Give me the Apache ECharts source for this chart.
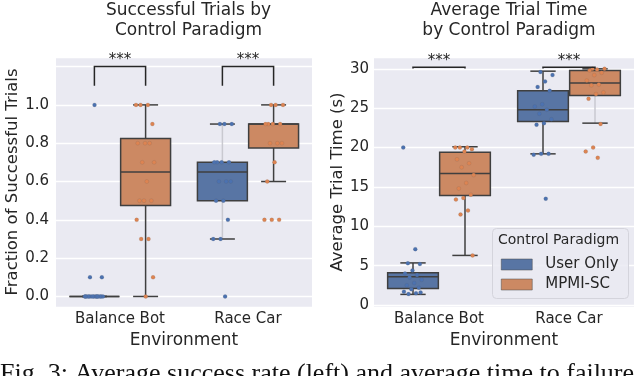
<!DOCTYPE html>
<html>
<head>
<meta charset="utf-8">
<script src="https://cdn.jsdelivr.net/npm/echarts@6/dist/echarts.min.js"></script>
<style>
html,body{margin:0;padding:0;background:#fff;}
#chart{width:640px;height:376px;}
</style>
</head>
<body>
<div id="chart"></div>
<script>
// ---------- data ----------
const categories = ['Balance Bot', 'Race Car'];
const hueNames = ['User Only', 'MPMI-SC'];

// box stats per category: [lowWhisker, Q1, median, Q3, highWhisker]
const successUserStats = [[0, 0, 0, 0, 0], [0.3, 0.5, 0.65, 0.7, 0.9]];
const successMpmiStats = [[0, 0.475, 0.65, 0.825, 1.0], [0.6, 0.775, 0.9, 0.9, 1.0]];
const timeUserStats = [[1.35, 2.1, 3.6, 4.1, 5.35], [19.2, 23.3, 24.8, 27.2, 29.7]];
const timeMpmiStats = [[6.3, 13.9, 16.7, 19.4, 20.1], [23.1, 26.6, 28.2, 29.8, 30.0]];

// individual trial points per category
const successUserPts = [
  [0, 0, 0, 0, 0, 0, 0, 0, 0, 0, 0, 0, 0, 0, 0, 0.1, 0.1, 1.0],
  [0.9, 0.9, 0.9, 0.7, 0.7, 0.7, 0.7, 0.6, 0.6, 0.6, 0.5, 0.5, 0.4, 0.3, 0.3, 0.0]
];
const successMpmiPts = [
  [1.0, 1.0, 1.0, 0.9, 0.8, 0.8, 0.8, 0.7, 0.7, 0.6, 0.5, 0.5, 0.5, 0.4, 0.3, 0.3, 0.1, 0.0],
  [1.0, 1.0, 1.0, 0.9, 0.9, 0.9, 0.9, 0.8, 0.8, 0.8, 0.7, 0.6, 0.4, 0.4, 0.4]
];
const timeUserPts = [
  [20.0, 7.1, 5.3, 5.2, 4.4, 4.0, 3.8, 3.5, 3.2, 2.8, 2.5, 2.2, 2.0, 1.7, 1.5, 1.4, 1.6],
  [29.6, 29.2, 28.4, 27.7, 27.2, 25.5, 25.2, 24.8, 24.3, 23.6, 23.1, 22.9, 19.2, 19.2, 19.1, 13.5]
];
const timeMpmiPts = [
  [20.0, 20.0, 20.0, 19.8, 19.5, 18.5, 18.0, 17.5, 16.5, 15.5, 14.8, 14.0, 13.6, 13.4, 12.0, 11.5, 6.3],
  [30.0, 30.0, 29.9, 29.8, 29.5, 29.2, 28.5, 28.0, 27.9, 27.0, 26.8, 26.2, 23.0, 20.0, 19.5, 18.7]
];

// significance brackets: [category, legBottom, top]
const successBrackets = [[0, 1.1, 1.2], [1, 1.1, 1.2]];
const timeBrackets = [[0, 30.05, 30.2], [1, 30.05, 30.2]];
const sigLabel = '***';

const successTicks = [0, 0.2, 0.4, 0.6, 0.8, 1.0];
const timeTicks = [0, 5, 10, 15, 20, 25, 30];

// ---------- styles ----------
const boxColors = ['#5875a4', '#cc8963'];
const ptColors = ['#4c72b0', '#dd8452'];
const edge = '#3f3f3f';
const txt = '#262626';
const font = 'DejaVu Sans';

function statsData(stats) { return stats.map((s, i) => [i].concat(s)); }
function ptsData(pts) {
  const out = [];
  pts.forEach((arr, c) => arr.forEach((v, k) => out.push([c, v, k])));
  return out;
}

function boxRender(offset, faintSet) {
  return function (params, api) {
    const cat = api.value(0);
    const band = api.size([1, 0])[0];
    const cx = api.coord([cat, 0])[0] + offset * band;
    const w = 0.39 * band;
    const cw = w / 2;
    const y = (i) => api.coord([cat, api.value(i)])[1];
    const yl = y(1), yq1 = y(2), ym = y(3), yq3 = y(4), yh = y(5);
    const wc = faintSet && faintSet.indexOf(params.dataIndex) >= 0 ? '#c9c9d0' : edge;
    const lw = 1.5;
    return {
      type: 'group',
      children: [
        { type: 'line', shape: { x1: cx, y1: yq1, x2: cx, y2: yl }, style: { stroke: wc, lineWidth: lw } },
        { type: 'line', shape: { x1: cx, y1: yq3, x2: cx, y2: yh }, style: { stroke: wc, lineWidth: lw } },
        { type: 'line', shape: { x1: cx - cw / 2, y1: yl, x2: cx + cw / 2, y2: yl }, style: { stroke: edge, lineWidth: lw } },
        { type: 'line', shape: { x1: cx - cw / 2, y1: yh, x2: cx + cw / 2, y2: yh }, style: { stroke: edge, lineWidth: lw } },
        { type: 'rect', shape: { x: cx - w / 2, y: yq3, width: w, height: Math.max(yq1 - yq3, 0) },
          style: { fill: boxColors[offset < 0 ? 0 : 1], stroke: edge, lineWidth: lw } },
        { type: 'line', shape: { x1: cx - w / 2, y1: ym, x2: cx + w / 2, y2: ym }, style: { stroke: edge, lineWidth: lw } }
      ]
    };
  };
}

function ptRender(offset, color) {
  return function (params, api) {
    const cat = api.value(0);
    const k = api.value(2);
    const band = api.size([1, 0])[0];
    const j = ((k * 0.618034 + cat * 0.37) % 1) - 0.5;
    const cx = api.coord([cat, 0])[0] + offset * band + j * 0.15 * band;
    const cy = api.coord([cat, api.value(1)])[1];
    return { type: 'circle', shape: { cx: cx, cy: cy, r: 2.0 },
      style: { fill: color, stroke: 'rgba(90,90,90,0.35)', lineWidth: 0.4 } };
  };
}

function bracketRender(params, api) {
  const cat = api.value(0);
  const band = api.size([1, 0])[0];
  const c = api.coord([cat, 0])[0];
  const x1 = c - 0.2 * band, x2 = c + 0.2 * band;
  const yb = api.coord([cat, api.value(1)])[1];
  const yt = api.coord([cat, api.value(2)])[1];
  return {
    type: 'group',
    children: [
      { type: 'polyline', shape: { points: [[x1, yb], [x1, yt], [x2, yt], [x2, yb]] },
        style: { stroke: txt, lineWidth: 1.5, fill: null } },
      { type: 'text', style: { text: sigLabel, x: c, y: yt + 1, align: 'center', verticalAlign: 'bottom',
        font: '15px "' + font + '"', fill: txt } }
    ]
  };
}

function fmt(ticks, digits) {
  return function (v) {
    for (const t of ticks) if (Math.abs(v - t) < 1e-6) return t.toFixed(digits);
    return '';
  };
}

function boxSeries(grid, stats, hue, faint) {
  const off = hue === 0 ? -0.2 : 0.2;
  return {
    type: 'custom', name: hueNames[hue], xAxisIndex: grid, yAxisIndex: grid,
    data: statsData(stats), encode: { x: 0, y: [1, 2, 3, 4, 5] },
    renderItem: boxRender(off, faint), itemStyle: { color: boxColors[hue] }, z: 2, silent: true
  };
}
function ptSeries(grid, pts, hue) {
  const off = hue === 0 ? -0.2 : 0.2;
  return {
    type: 'custom', name: hueNames[hue], xAxisIndex: grid, yAxisIndex: grid,
    data: ptsData(pts), encode: { x: 0, y: 1 },
    renderItem: ptRender(off, ptColors[hue]), itemStyle: { color: boxColors[hue] }, z: 3, silent: true
  };
}

const xAxisBase = (gi) => ({
  type: 'category', gridIndex: gi, data: categories,
  axisLine: { show: false }, axisTick: { show: false },
  axisLabel: { fontSize: 15, color: txt, fontFamily: font, margin: 5 },
  name: 'Environment', nameLocation: 'middle', nameGap: 22,
  nameTextStyle: { fontSize: 17, color: txt, fontFamily: font },
  splitLine: { show: false }
});

const option = {
  animation: false,
  backgroundColor: '#ffffff',
  title: [
    { text: 'Successful Trials by\nControl Paradigm', left: 183.5, top: -4, textAlign: 'center',
      textStyle: { fontSize: 17, fontWeight: 'normal', color: txt, fontFamily: font, lineHeight: 20 } },
    { text: 'Average Trial Time\nby Control Paradigm', left: 504, top: -4, textAlign: 'center',
      textStyle: { fontSize: 17, fontWeight: 'normal', color: txt, fontFamily: font, lineHeight: 20 } }
  ],
  grid: [
    { left: 56, top: 57, width: 256, height: 250, show: true, backgroundColor: '#eaeaf2', borderWidth: 0 },
    { left: 374, top: 57, width: 260, height: 250, show: true, backgroundColor: '#eaeaf2', borderWidth: 0 }
  ],
  xAxis: [xAxisBase(0), xAxisBase(1)],
  yAxis: [
    { type: 'value', gridIndex: 0, min: -0.055, max: 1.25, minInterval: 0.2, maxInterval: 0.2,
      axisLine: { show: false }, axisTick: { show: false },
      axisLabel: { fontSize: 15, color: txt, fontFamily: font, margin: 7, formatter: fmt(successTicks, 1) },
      splitLine: { lineStyle: { color: '#ffffff', width: 1.3 } },
      name: 'Fraction of Successful Trials', nameLocation: 'middle', nameGap: 34,
      nameTextStyle: { fontSize: 16.5, color: txt, fontFamily: font } },
    { type: 'value', gridIndex: 1, min: -0.25, max: 31.5, minInterval: 5, maxInterval: 5,
      axisLine: { show: false }, axisTick: { show: false },
      axisLabel: { fontSize: 15, color: txt, fontFamily: font, margin: 5, formatter: fmt(timeTicks, 0) },
      splitLine: { lineStyle: { color: '#ffffff', width: 1.3 } },
      name: 'Average Trial Time (s)', nameLocation: 'middle', nameGap: 28,
      nameTextStyle: { fontSize: 16.5, color: txt, fontFamily: font } }
  ],
  legend: {
    data: hueNames, orient: 'vertical', left: 501, top: 257, padding: 0,
    itemWidth: 31, itemHeight: 11, itemGap: 5, icon: 'rect', z: 20,
    itemStyle: { borderColor: '#4a4a4a', borderWidth: 0.5 },
    textStyle: { fontSize: 15, color: txt, fontFamily: font, padding: [0, 0, 0, 8] },
    selectedMode: false
  },
  graphic: [
    { type: 'rect', left: 492, top: 228, z: 15, shape: { width: 136, height: 70, r: 4 },
      style: { fill: 'rgba(234,234,242,0.85)', stroke: '#d4d4dc', lineWidth: 1 } },
    { type: 'text', left: 498, top: 233, z: 16,
      style: { text: 'Control Paradigm', font: '14px "' + font + '"', fill: txt } },
    { type: 'text', z: 16, left: 0, top: 361,
      style: { text: 'Fig. 3: Average success rate (left) and average time to failure', font: '26px "Liberation Serif"', fill: '#111' } }
  ],
  series: [
    boxSeries(0, successUserStats, 0, [1]),
    boxSeries(0, successMpmiStats, 1, null),
    boxSeries(1, timeUserStats, 0, null),
    boxSeries(1, timeMpmiStats, 1, [1]),
    ptSeries(0, successUserPts, 0),
    ptSeries(0, successMpmiPts, 1),
    ptSeries(1, timeUserPts, 0),
    ptSeries(1, timeMpmiPts, 1),
    { type: 'custom', xAxisIndex: 0, yAxisIndex: 0, data: successBrackets, encode: { x: 0, y: [1, 2] },
      renderItem: bracketRender, z: 4, silent: true, clip: false },
    { type: 'custom', xAxisIndex: 1, yAxisIndex: 1, data: timeBrackets, encode: { x: 0, y: [1, 2] },
      renderItem: bracketRender, z: 4, silent: true, clip: false }
  ]
};

const chart = echarts.init(document.getElementById('chart'), null, { renderer: 'canvas' });
chart.setOption(option);
</script>
</body>
</html>
